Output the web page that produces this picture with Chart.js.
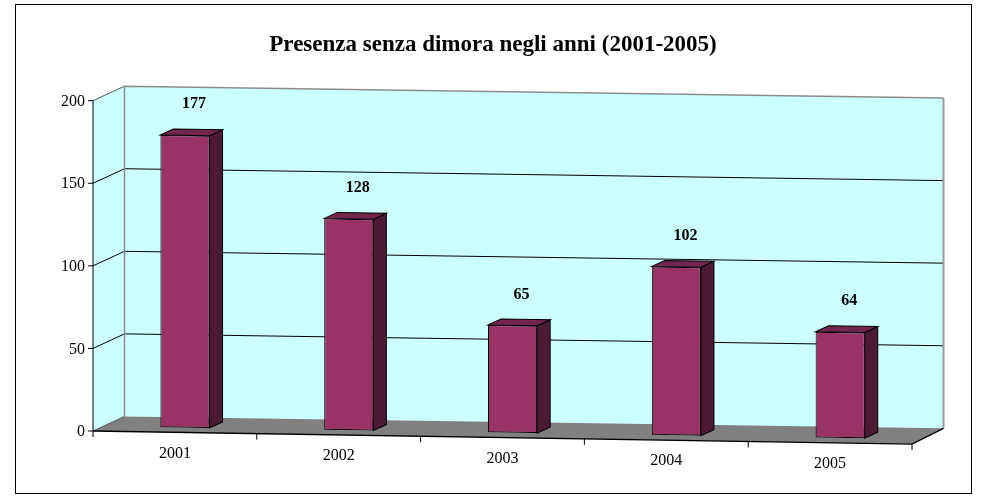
<!DOCTYPE html>
<html>
<head>
<meta charset="utf-8">
<script src="https://cdn.jsdelivr.net/npm/chart.js@4/dist/chart.umd.min.js"></script>
<style>
  html, body { margin: 0; padding: 0; background: #fff; }
  #wrap { position: relative; width: 986px; height: 496px; }
</style>
</head>
<body>
<div id="wrap"><canvas id="presenzaChart"></canvas></div>
<script>
// data
const years = ['2001', '2002', '2003', '2004', '2005'];
const presenze = [177, 128, 65, 102, 64];
const yTicks = [0, 50, 100, 150, 200];
const chartTitle = 'Presenza senza dimora negli anni (2001-2005)';

// fake 3D look: depth vector of the box and a small perspective tilt
const DX = 31.5, DY = -15;
const BAR_K = 0.32;          // where the bar fronts sit inside the depth
const BAR_DX = 13, BAR_DY = -6.2;
const shear = k => 0.016 - 0.0015 * k;

const serif = '"Liberation Serif", "Times New Roman", serif';

function pt(area, x, y, k) {
    const sx = x + k * DX;
    return [sx, y + k * DY + shear(k) * (sx - area.left)];
}

function poly(ctx, pts, fill, stroke, lw) {
    ctx.beginPath();
    ctx.moveTo(pts[0][0], pts[0][1]);
    for (let i = 1; i < pts.length; i++) ctx.lineTo(pts[i][0], pts[i][1]);
    ctx.closePath();
    if (fill) { ctx.fillStyle = fill; ctx.fill(); }
    if (stroke) { ctx.strokeStyle = stroke; ctx.lineWidth = lw || 1; ctx.stroke(); }
}

function line(ctx, pts, color, lw) {
    ctx.beginPath();
    ctx.moveTo(pts[0][0], pts[0][1]);
    for (let i = 1; i < pts.length; i++) ctx.lineTo(pts[i][0], pts[i][1]);
    ctx.strokeStyle = color;
    ctx.lineWidth = lw || 1;
    ctx.stroke();
}

const excel3d = {
    id: 'excel3d',
    beforeDraw(chart) {
        const ctx = chart.ctx;
        ctx.save();
        ctx.strokeStyle = '#000';
        ctx.lineWidth = 1;
        ctx.strokeRect(15.5, 4.5, 956, 489);
        ctx.restore();
    },
    beforeDatasetsDraw(chart) {
        const ctx = chart.ctx;
        const a = chart.chartArea;
        const xs = chart.scales.x, ys = chart.scales.y;
        const L = a.left, R = a.right;
        const yTop = ys.getPixelForValue(yTicks[yTicks.length - 1]);
        const y0 = ys.getPixelForValue(0);

        ctx.save();
        // walls and floor
        poly(ctx, [pt(a, L, yTop, 0), pt(a, L, yTop, 1), pt(a, L, y0, 1), pt(a, L, y0, 0)], '#ccffff');
        poly(ctx, [pt(a, L, yTop, 1), pt(a, R, yTop, 1), pt(a, R, y0, 1), pt(a, L, y0, 1)], '#ccffff');
        poly(ctx, [pt(a, L, y0, 0), pt(a, R, y0, 0), pt(a, R, y0, 1), pt(a, L, y0, 1)], '#808080');

        // gridlines on side and back wall
        yTicks.forEach(v => {
            if (v === 0 || v === yTicks[yTicks.length - 1]) return;
            const yv = ys.getPixelForValue(v);
            line(ctx, [pt(a, L, yv, 0), pt(a, L, yv, 1), pt(a, R, yv, 1)], '#000', 1);
        });
        // wall edges
        line(ctx, [pt(a, L, yTop, 0), pt(a, L, yTop, 1)], '#555', 1);
        line(ctx, [pt(a, L, y0, 1), pt(a, L, yTop, 1), pt(a, R, yTop, 1)], '#8c8c8c', 1.5);
        line(ctx, [pt(a, R, yTop, 1), pt(a, R, y0, 1)], '#9a9a9a', 2);
        line(ctx, [pt(a, L, y0, 0), pt(a, L, y0, 1)], '#555', 1);

        // y axis + ticks + labels
        line(ctx, [pt(a, L, yTop, 0), pt(a, L, y0, 0)], '#000', 1);
        ctx.font = '16px ' + serif;
        ctx.fillStyle = '#000';
        ctx.textAlign = 'right';
        ctx.textBaseline = 'middle';
        yTicks.forEach(v => {
            const yv = ys.getPixelForValue(v);
            line(ctx, [[L - 5, yv], [L, yv]], '#000', 1);
            ctx.fillText(String(v), L - 8, yv + 1);
        });

        // x axis front edge, right floor edge, ticks, labels
        line(ctx, [pt(a, L, y0, 0), pt(a, R, y0, 0), pt(a, R, y0, 1)], '#000', 1.3);
        const catW = (R - L) / years.length;
        for (let i = 0; i <= years.length; i++) {
            const p = pt(a, L + i * catW, y0, 0);
            line(ctx, [p, [p[0], p[1] + 6]], '#000', 1);
        }
        ctx.textAlign = 'center';
        years.forEach((yr, i) => {
            const p = pt(a, xs.getPixelForValue(i), y0, 0);
            ctx.fillText(yr, p[0], p[1] + 21);
        });
        ctx.restore();

        // move the bars into the box, with the same tilt
        const s = shear(BAR_K);
        ctx.save();
        ctx.transform(1, s, 0, 1, BAR_K * DX, BAR_K * DY + s * (BAR_K * DX - L));
    },
    afterDatasetsDraw(chart) {
        const ctx = chart.ctx;
        const a = chart.chartArea;
        const meta = chart.getDatasetMeta(0);
        meta.data.forEach(el => {
            const p = el.getProps(['x', 'y', 'base', 'width'], true);
            const l = p.x - p.width / 2, r = p.x + p.width / 2;
            poly(ctx, [[r, p.y], [r + BAR_DX, p.y + BAR_DY], [r + BAR_DX, p.base + BAR_DY], [r, p.base]], '#4d1a33', '#000', 1);
            poly(ctx, [[l, p.y], [l + BAR_DX, p.y + BAR_DY], [r + BAR_DX, p.y + BAR_DY], [r, p.y]], '#73264d', '#000', 1);
        });
        ctx.restore();

        // value labels, upright
        ctx.save();
        ctx.font = 'bold 16px ' + serif;
        ctx.fillStyle = '#000';
        ctx.textAlign = 'center';
        ctx.textBaseline = 'middle';
        meta.data.forEach((el, i) => {
            const p = el.getProps(['x', 'y'], true);
            const q = pt(a, p.x, p.y, BAR_K);
            ctx.fillText(String(presenze[i]), q[0] + 9, q[1] - 31);
        });
        ctx.restore();
    }
};

new Chart(document.getElementById('presenzaChart'), {
    type: 'bar',
    data: {
        labels: years,
        datasets: [{
            label: 'Presenza senza dimora',
            data: presenze,
            backgroundColor: '#993366',
            borderColor: '#000',
            borderWidth: 1,
            borderSkipped: false,
            barPercentage: 0.3,
            categoryPercentage: 1,
            clip: false
        }]
    },
    options: {
        responsive: true,
        maintainAspectRatio: false,
        animation: false,
        events: [],
        layout: { padding: { left: 74, right: 74, top: 0, bottom: 65 } },
        scales: {
            x: { display: false, offset: true },
            // the y axis is drawn by the plugin; here it only reserves room on the left
            y: {
                display: true, min: 0, max: 200,
                grid: { display: false },
                border: { display: false },
                ticks: { display: false },
                afterFit(scale) { scale.width = 19; }
            }
        },
        plugins: {
            legend: { display: false },
            tooltip: { enabled: false },
            title: {
                display: true,
                text: chartTitle,
                color: '#000',
                font: { family: serif, size: 23, weight: 'bold' },
                padding: { top: 31.2, bottom: 41.9 }
            }
        }
    },
    plugins: [excel3d]
});
</script>
</body>
</html>
